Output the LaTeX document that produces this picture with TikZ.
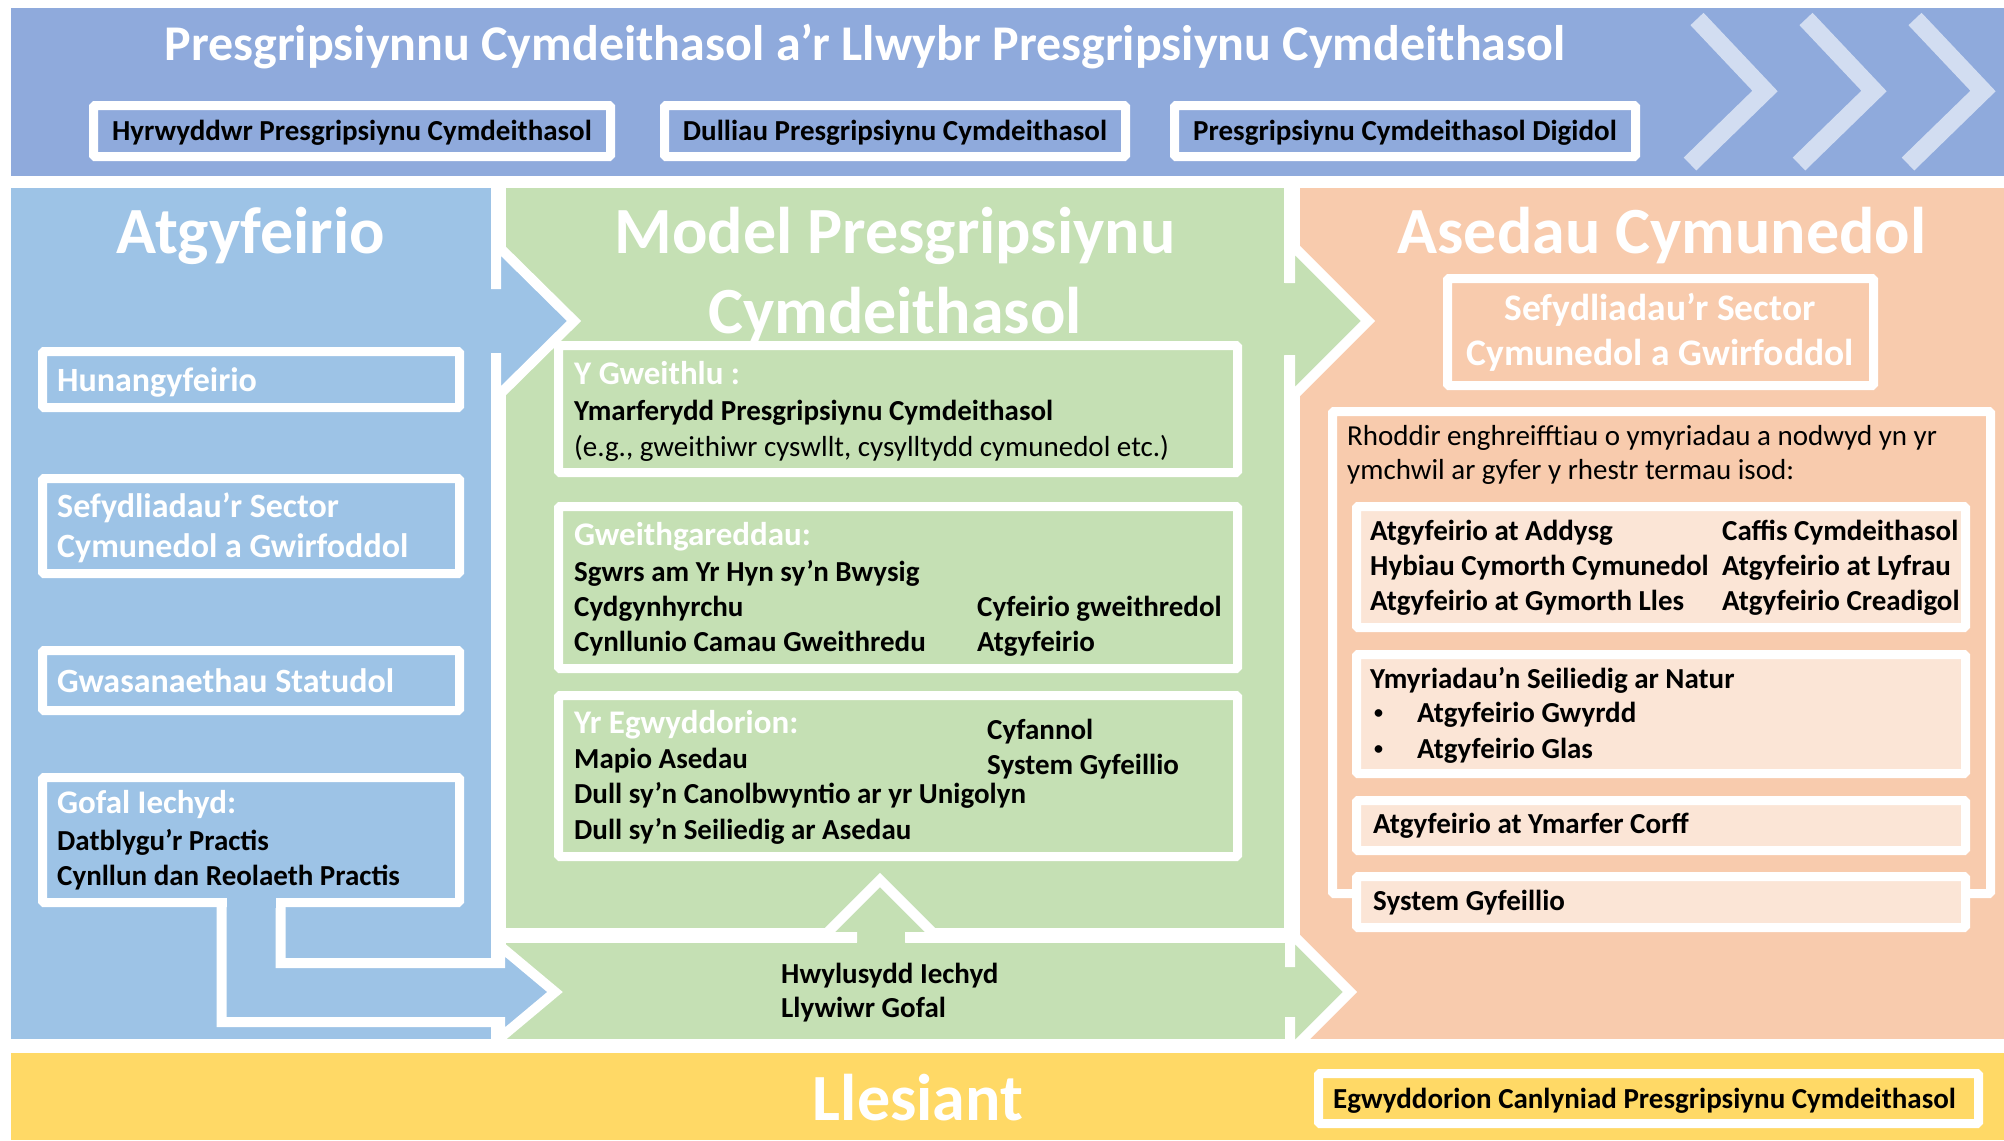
\documentclass[tikz,border=0pt]{standalone}
\usepackage{fontspec}
\setmainfont{Carlito}
\definecolor{topblue}{RGB}{143,170,220}
\definecolor{leftblue}{RGB}{157,195,230}
\definecolor{mygreen}{RGB}{197,224,180}
\definecolor{myorange}{RGB}{248,203,173}
\definecolor{mypeach}{RGB}{251,229,214}
\definecolor{myyellow}{RGB}{255,217,102}
\definecolor{mychev}{RGB}{210,221,241}
\usetikzlibrary{calc}

\begin{document}
\begin{tikzpicture}[x=1pt,y=-1pt]
	\tikzstyle{box}=[draw=white,line width=9pt,rounded corners=1.5pt,inner sep=0pt,outer sep=0pt];
	\tikzstyle{big}=[text=white,font=\bfseries\fontsize{66}{78}\selectfont,inner sep=0pt,anchor=base];
	\tikzstyle{wt}=[text=white,font=\bfseries\fontsize{34}{40}\selectfont,inner sep=0pt,anchor=base west];
	\tikzstyle{hd}=[text=white,font=\bfseries\fontsize{33}{39}\selectfont,inner sep=0pt,anchor=base west];
	\tikzstyle{bt}=[font=\bfseries\fontsize{29}{35}\selectfont,inner sep=0pt,anchor=base west];
	\tikzstyle{rt}=[font=\fontsize{29}{35}\selectfont,inner sep=0pt,anchor=base west];
	\useasboundingbox (0,0) rectangle (2004,1140);
	% bands and panels
	\fill[topblue]  (11,8)     rectangle (2004,176);
	\fill[leftblue] (11,188)   rectangle (491,1039);
	\fill[mygreen]  (506,188)  rectangle (1284,928);
	\fill[mygreen]  (506,943)  rectangle (1285,1039);
	\fill[myorange] (1300,188) rectangle (2004,1039);
	\fill[myyellow] (11,1053)  rectangle (2004,1140);
	\foreach \dx in {0,109,218}
		\draw[mychev,line width=18pt] (1697+\dx,19) -- (1765+\dx,91) -- (1690+\dx,164);
	% arrows between the panels
	\fill[leftblue] (470,289) -- (496,289) -- (496,244) -- (574,321) -- (496,398) -- (496,353) -- (470,353) -- cycle;
	\draw[white,line width=10pt] (496,289) -- (496,244) -- (574,321) -- (496,398) -- (496,353);
	\fill[mygreen] (1270,283) -- (1290,283) -- (1290,243) -- (1368,321) -- (1290,399) -- (1290,355) -- (1270,355) -- cycle;
	\draw[white,line width=10pt] (1290,283) -- (1290,243) -- (1368,321) -- (1290,399) -- (1290,355);
	\begin{scope}
		\clip (1200,900) rectangle (1400,1040);
		\fill[mygreen] (1270,967) -- (1290,967) -- (1290,932) -- (1350,992) -- (1290,1052) -- (1290,1017) -- (1270,1017) -- cycle;
		\draw[white,line width=10pt] (1290,967) -- (1290,932) -- (1350,992) -- (1290,1052) -- (1290,1017);
	\end{scope}
	\fill[mygreen] (857,950) -- (857,937) -- (823,937) -- (880,880) -- (937,937) -- (905,937) -- (905,950) -- cycle;
	\draw[white,line width=10pt] (857,937) -- (823,937) -- (880,880) -- (937,937) -- (905,937);
	\fill[leftblue] (221.5,902) -- (221.5,1022) -- (500,1022) -- (500,1038) -- (555,992) -- (500,946) -- (500,963) -- (280.5,963) -- (280.5,902) -- cycle;
	\draw[white,line width=10pt] (221.5,902) -- (221.5,1022) -- (500,1022) -- (500,1038) -- (555,992) -- (500,946) -- (500,963) -- (280.5,963) -- (280.5,902);
	% top band
	\node[big,font=\bfseries\fontsize{50}{60}\selectfont] (title) at (865,60) {Presgripsiynnu Cymdeithasol a’r Llwybr Presgripsiynu Cymdeithasol};
	\node[box,fill=topblue,minimum width=517pt,minimum height=51pt] (hyr)  at (352,131)  {};
	\node[box,fill=topblue,minimum width=461pt,minimum height=51pt] (dull) at (895,131)  {};
	\node[box,fill=topblue,minimum width=461pt,minimum height=51pt] (digi) at (1405,131) {};
	\node[bt,anchor=base] (t-hyr)  at ($(hyr)+(0,9)$)  {Hyrwyddwr Presgripsiynu Cymdeithasol};
	\node[bt,anchor=base] (t-dull) at ($(dull)+(0,9)$) {Dulliau Presgripsiynu Cymdeithasol};
	\node[bt,anchor=base] (t-digi) at ($(digi)+(0,9)$) {Presgripsiynu Cymdeithasol Digidol};
	% Atgyfeirio
	\node[big] (atg-title) at (251,253) {Atgyfeirio};
	\node[box,fill=leftblue,minimum width=417pt,minimum height=56pt]  (hunan) at (251,379.5) {};
	\node[box,fill=leftblue,minimum width=417pt,minimum height=95pt]  (sefyd) at (251,526)   {};
	\node[box,fill=leftblue,minimum width=417pt,minimum height=60pt]  (gwas)  at (251,680.5) {};
	\node[box,fill=leftblue,minimum width=417pt,minimum height=125pt] (gofal) at (251,840)   {};
	\fill[leftblue] (226.5,897) rectangle (275.5,908);
	\node[wt] (t-hunan) at (57,391) {Hunangyfeirio};
	\node[wt] (t-sef1)  at (57,517) {Sefydliadau’r Sector};
	\node[wt] (t-sef2)  at (57,557) {Cymunedol a Gwirfoddol};
	\node[wt] (t-gwas)  at (57,692) {Gwasanaethau Statudol};
	\node[hd] (t-gof1)  at (57,813) {Gofal Iechyd:};
	\node[bt] (t-gof2)  at (57,850) {Datblygu’r Practis};
	\node[bt] (t-gof3)  at (57,885) {Cynllun dan Reolaeth Practis};
	% Model
	\node[big] (mod1) at (895,253) {Model Presgripsiynu};
	\node[big] (mod2) at ($(mod1.base)+(0,80)$) {Cymdeithasol};
	\node[box,fill=mygreen,minimum width=679pt,minimum height=127pt] (gweithlu) at (898,409)   {};
	\node[box,fill=mygreen,minimum width=679pt,minimum height=162pt] (gweithg)  at (898,587.5) {};
	\node[box,fill=mygreen,minimum width=679pt,minimum height=161pt] (egwydd)   at (898,776)   {};
	\node[hd] (t-gw1) at (574,384) {Y Gweithlu :};
	\node[bt] (t-gw2) at (574,420) {Ymarferydd Presgripsiynu Cymdeithasol};
	\node[rt] (t-gw3) at (574,456) {(e.g., gweithiwr cyswllt, cysylltydd cymunedol etc.)};
	\node[hd] (t-gg1) at (574,545) {Gweithgareddau:};
	\node[bt] (t-gg2) at (574,581) {Sgwrs am Yr Hyn sy’n Bwysig};
	\node[bt] (t-gg3) at (574,616) {Cydgynhyrchu};
	\node[bt] (t-gg4) at (574,651) {Cynllunio Camau Gweithredu};
	\node[bt] (t-gg5) at (977,616) {Cyfeirio gweithredol};
	\node[bt] (t-gg6) at (977,651) {Atgyfeirio};
	\node[hd] (t-eg1) at (574,733) {Yr Egwyddorion:};
	\node[bt] (t-eg2) at (987,739) {Cyfannol};
	\node[bt] (t-eg3) at (574,768) {Mapio Asedau};
	\node[bt] (t-eg4) at (987,774) {System Gyfeillio};
	\node[bt] (t-eg5) at (574,803) {Dull sy’n Canolbwyntio ar yr Unigolyn};
	\node[bt] (t-eg6) at (574,839) {Dull sy’n Seiliedig ar Asedau};
	\node[bt] (t-hwy) at (781,983)  {Hwylusydd Iechyd};
	\node[bt] (t-lly) at (781,1017) {Llywiwr Gofal};
	% Asedau Cymunedol
	\node[big] (ased-title) at (1662,253) {Asedau Cymunedol};
	\node[box,fill=myorange,minimum width=426pt,minimum height=107pt] (sefyd2) at (1660.5,332) {};
	\node[wt,anchor=base,font=\bfseries\fontsize{37.5}{44}\selectfont] (t-s21) at (1660,320) {Sefydliadau’r Sector};
	\node[wt,anchor=base,font=\bfseries\fontsize{37.5}{44}\selectfont] (t-s22) at (1660,365) {Cymunedol a Gwirfoddol};
	\node[box,fill=myorange,minimum width=658pt,minimum height=482pt] (rhodd) at (1661.5,652.5) {};
	\node[rt] (t-rh1) at (1347,445) {Rhoddir enghreifftiau o ymyriadau a nodwyd yn yr};
	\node[rt] (t-rh2) at (1347,479) {ymchwil ar gyfer y rhestr termau isod:};
	\node[box,fill=mypeach,minimum width=609pt,minimum height=121pt] (atgbox) at (1661,567)   {};
	\node[box,fill=mypeach,minimum width=609pt,minimum height=119pt] (natur)  at (1661,714)   {};
	\node[box,fill=mypeach,minimum width=609pt,minimum height=50pt]  (corff)  at (1661,825.5) {};
	\node[box,fill=mypeach,minimum width=609pt,minimum height=51pt]  (cyfe)   at (1661,902)   {};
	\node[bt] (t-a1) at (1370,540) {Atgyfeirio at Addysg};
	\node[bt] (t-a2) at (1370,575) {Hybiau Cymorth Cymunedol};
	\node[bt] (t-a3) at (1370,610) {Atgyfeirio at Gymorth Lles};
	\node[bt] (t-a4) at (1722,540) {Caffis Cymdeithasol};
	\node[bt] (t-a5) at (1722,575) {Atgyfeirio at Lyfrau};
	\node[bt] (t-a6) at (1722,610) {Atgyfeirio Creadigol};
	\node[bt] (t-n1) at (1370,688) {Ymyriadau’n Seiliedig ar Natur};
	\node[bt,font=\bfseries\fontsize{18}{20}\selectfont] (t-n2) at (1374,718) {•};
	\node[bt] (t-n3) at (1417,722) {Atgyfeirio Gwyrdd};
	\node[bt,font=\bfseries\fontsize{18}{20}\selectfont] (t-n4) at (1374,754) {•};
	\node[bt] (t-n5) at (1417,758) {Atgyfeirio Glas};
	\node[bt] (t-cor) at (1373,833) {Atgyfeirio at Ymarfer Corff};
	\node[bt] (t-cyf) at (1373,910) {System Gyfeillio};
	% Llesiant
	\node[big,font=\bfseries\fontsize{66}{78}\selectfont] (lles) at (918,1120) {Llesiant};
	\node[box,fill=myyellow,minimum width=660pt,minimum height=50pt] (canl) at (1648.5,1098.5) {};
	\node[bt] (t-canl) at (1333,1108) {Egwyddorion Canlyniad Presgripsiynu Cymdeithasol};
\end{tikzpicture}
\end{document}
